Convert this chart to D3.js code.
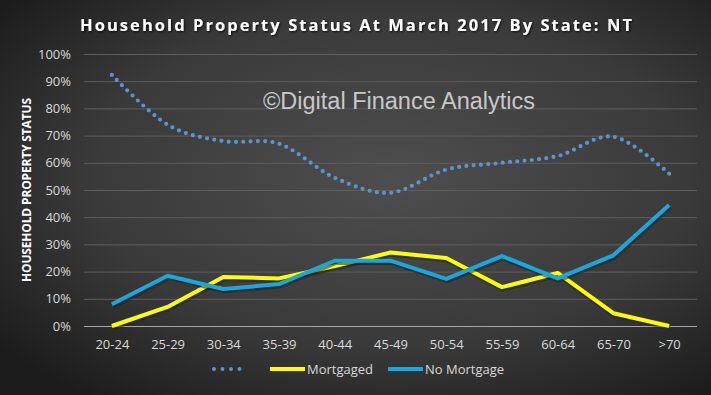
<!DOCTYPE html>
<html>
<head>
<meta charset="utf-8">
<script src="https://cdn.jsdelivr.net/npm/d3@7"></script>
<style>
  body { margin: 0; background: #2b2b2b; }
  svg { display: block; }
</style>
</head>
<body>
<div id="chart"></div>
<script>
const width = 711;
const height = 395;

// data (percent)
const ageGroups = ["20-24", "25-29", "30-34", "35-39", "40-44", "45-49", "50-54", "55-59", "60-64", "65-70", ">70"];
const owned = [92.3, 74, 68, 67, 54.5, 49, 57.5, 60, 62.5, 69.6, 56];
const mortgaged = [0, 7, 18, 17.5, 22, 27, 25, 14.3, 19.5, 4.7, 0];
const noMortgage = [8, 18.5, 13.6, 15.4, 24, 24, 17.3, 25.7, 17.5, 26, 44.5];
const yTicks = [0, 10, 20, 30, 40, 50, 60, 70, 80, 90, 100];

const margin = { top: 54, right: 14, bottom: 69, left: 84 };

const svg = d3.select("#chart")
  .append("svg")
  .attr("width", width)
  .attr("height", height);

// background gradient
const defs = svg.append("defs");
const bg = defs.append("radialGradient")
  .attr("id", "bg")
  .attr("cx", "55%").attr("cy", "45%").attr("r", "70%");
bg.append("stop").attr("offset", "0%").attr("stop-color", "#4e4e4e");
bg.append("stop").attr("offset", "60%").attr("stop-color", "#3a3a3a");
bg.append("stop").attr("offset", "100%").attr("stop-color", "#1c1c1c");

const shadow = defs.append("filter").attr("id", "shadow")
  .attr("x", "-5%").attr("y", "-20%").attr("width", "110%").attr("height", "150%");
shadow.append("feDropShadow")
  .attr("dx", 1).attr("dy", 1).attr("stdDeviation", 1)
  .attr("flood-color", "#000").attr("flood-opacity", 0.8);

svg.append("rect")
  .attr("width", width)
  .attr("height", height)
  .attr("fill", "url(#bg)");

const x = d3.scalePoint()
  .domain(ageGroups)
  .range([margin.left, width - margin.right])
  .padding(0.5);

const y = d3.scaleLinear()
  .domain([0, 100])
  .range([height - margin.bottom, margin.top]);

// gridlines
svg.append("g")
  .selectAll("line")
  .data(yTicks)
  .join("line")
  .attr("x1", margin.left)
  .attr("x2", width - margin.right)
  .attr("y1", d => y(d) + 0.5)
  .attr("y2", d => y(d) + 0.5)
  .attr("stroke", d => d === 0 ? "#a6a6a6" : "#5e5e5e")
  .attr("stroke-width", 1);

// y axis labels
const yAxis = svg.append("g")
  .attr("transform", `translate(${margin.left - 13},0)`)
  .call(d3.axisLeft(y).tickValues(yTicks).tickFormat(d => d + "%").tickSize(0).tickPadding(0));
yAxis.select(".domain").remove();
yAxis.selectAll("text")
  .attr("fill", "#d9d9d9")
  .attr("font-family", "Open Sans, sans-serif")
  .attr("font-size", 13);

// x axis labels
const xAxis = svg.append("g")
  .attr("transform", `translate(0,${height - margin.bottom + 11})`)
  .call(d3.axisBottom(x).tickSize(0).tickPadding(3));
xAxis.select(".domain").remove();
xAxis.selectAll("text")
  .attr("fill", "#d9d9d9")
  .attr("font-family", "Open Sans, sans-serif")
  .attr("font-size", 13);

// y axis title
svg.append("text")
  .attr("transform", `translate(31,190) rotate(-90)`)
  .attr("text-anchor", "middle")
  .attr("fill", "#ffffff")
  .attr("font-family", "Open Sans, sans-serif")
  .attr("font-weight", "bold")
  .attr("font-size", 12)
  .attr("textLength", 184)
  .attr("lengthAdjust", "spacing")
  .text("HOUSEHOLD PROPERTY STATUS");

// title
svg.append("text")
  .attr("x", 80)
  .attr("y", 31)
  .attr("textLength", 552)
  .attr("lengthAdjust", "spacing")
  .attr("fill", "#ffffff")
  .attr("font-family", "Open Sans, sans-serif")
  .attr("font-weight", "bold")
  .attr("font-size", 16.5)
  .attr("filter", "url(#shadow)")
  .text("Household  Property  Status  At  March  2017  By  State:  NT");

// watermark
svg.append("text")
  .attr("x", 399)
  .attr("y", 109)
  .attr("text-anchor", "middle")
  .attr("fill", "#c8c8c8")
  .attr("font-family", "Liberation Sans, Arial, sans-serif")
  .attr("font-size", 23.5)
  .text("\u00a9Digital Finance Analytics");

// lines
const straight = d3.line()
  .x((d, i) => x(ageGroups[i]))
  .y(d => y(d));

const smooth = d3.line()
  .x((d, i) => x(ageGroups[i]))
  .y(d => y(d))
  .curve(d3.curveCardinal.tension(0));

svg.append("path")
  .datum(owned)
  .attr("d", smooth)
  .attr("fill", "none")
  .attr("stroke", "#5b93cf")
  .attr("stroke-width", 4.2)
  .attr("stroke-linecap", "round")
  .attr("stroke-dasharray", "0 7.3");

[[mortgaged, "#ffff00"], [noMortgage, "#14a9e0"]].forEach(([values, color]) => {
  svg.append("path")
    .datum(values)
    .attr("d", straight)
    .attr("fill", "none")
    .attr("stroke", "#1a1a1a")
    .attr("stroke-opacity", 0.5)
    .attr("stroke-width", 5.5)
    .attr("transform", "translate(1,1.5)");
  svg.append("path")
    .datum(values)
    .attr("d", straight)
    .attr("fill", "none")
    .attr("stroke", color)
    .attr("stroke-width", 4)
    .attr("stroke-linejoin", "round");
});

// legend
const legendY = 369;
const legend = svg.append("g");

legend.append("line")
  .attr("x1", 214).attr("x2", 248)
  .attr("y1", legendY).attr("y2", legendY)
  .attr("stroke", "#5b93cf")
  .attr("stroke-width", 4)
  .attr("stroke-linecap", "round")
  .attr("stroke-dasharray", "0 8.5");

const legendItems = [
  { label: "Mortgaged", color: "#ffff00", x: 270 },
  { label: "No Mortgage", color: "#14a9e0", x: 388 }
];

legendItems.forEach(item => {
  legend.append("line")
    .attr("x1", item.x).attr("x2", item.x + 35)
    .attr("y1", legendY).attr("y2", legendY)
    .attr("stroke", item.color)
    .attr("stroke-width", 4);
  legend.append("text")
    .attr("x", item.x + 37)
    .attr("y", legendY + 4.5)
    .attr("fill", "#d9d9d9")
    .attr("font-family", "Open Sans, sans-serif")
    .attr("font-size", 13)
    .text(item.label);
});
</script>
</body>
</html>
